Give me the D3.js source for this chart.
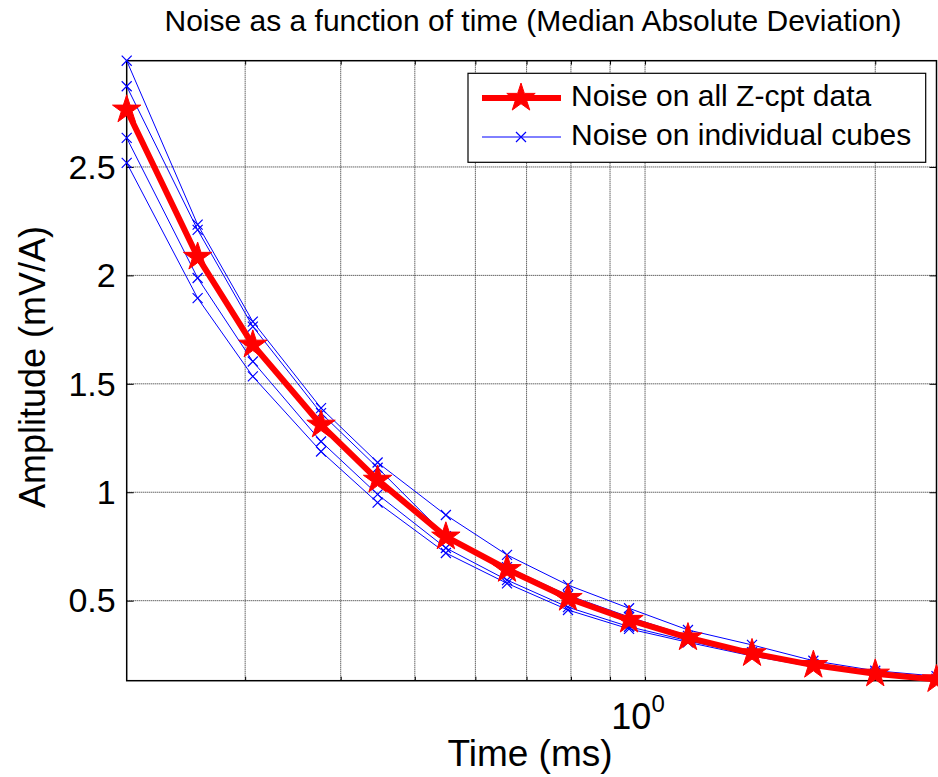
<!DOCTYPE html>
<html lang="en">
    <head>
        <meta charset="utf-8">
        <title>Noise vs time</title>
        <script src="https://d3js.org/d3.v7.min.js"></script>
        <style type="text/css">
          body {
            margin: 0;
            background: #fff;
          }
          text {
            font-family: "Liberation Sans", Arial, sans-serif;
            fill: #000;
          }
          .grid line {
            stroke: #222;
            stroke-width: 1;
            stroke-dasharray: 1,1;
          }
          .frame {
            fill: none;
            stroke: #000;
            stroke-width: 1.5;
          }
          .axis path {
            display: none;
          }
          .axis line {
            stroke: #000;
          }
        </style>
    </head>
    <body>
        <script type="text/javascript">

         // gate times (ms), log axis
         var times = [0.21, 0.26, 0.307, 0.377, 0.447, 0.549, 0.66, 0.793, 0.953, 1.138, 1.38, 1.66, 2.0, 2.405];

         // noise on all Z-cpt data (mV/A)
         var allData = [2.764, 2.085, 1.68, 1.311, 1.057, 0.795, 0.645, 0.512, 0.411, 0.33, 0.257, 0.203, 0.163, 0.137];

         // noise on individual cubes
         var cube1 = [2.99, 2.234, 1.787, 1.388, 1.137, 0.895, 0.711, 0.572, 0.465, 0.365, 0.296, 0.223, 0.177, 0.152];
         var cube2 = [2.872, 2.21, 1.764, 1.365, 1.113, 0.798, 0.655, 0.525, 0.425, 0.338, 0.262, 0.208, 0.167, 0.14];
         var cube3 = [2.634, 1.988, 1.603, 1.234, 0.99, 0.743, 0.595, 0.47, 0.38, 0.315, 0.25, 0.198, 0.16, 0.135];
         var cube4 = [2.519, 1.895, 1.534, 1.188, 0.952, 0.72, 0.58, 0.457, 0.37, 0.308, 0.245, 0.195, 0.157, 0.131];
         var cubes = [cube1, cube2, cube3, cube4];

         var yTicks = [0.5, 1, 1.5, 2, 2.5];
         var xGrid = [0.3, 0.4, 0.5, 0.6, 0.7, 0.8, 0.9, 1, 2];

         var legendLabels = ["Noise on all Z-cpt data", "Noise on individual cubes"];

         var w = 938, h = 777;
         // plot box (note: "top" is reserved on window, so use p* names)
         var pLeft = 126.7, pRight = 936.5, pTop = 60.7, pBottom = 680.7;

         var svg = d3.select("body")
                     .append("svg")
                     .attr("width", w)
                     .attr("height", h);

         var x = d3.scaleLog()
                   .domain(d3.extent(times))
                   .range([pLeft, pRight]);

         var allValues = d3.merge(cubes.concat([allData]));
         var y = d3.scaleLinear()
                   .domain(d3.extent(allValues))
                   .range([pBottom, pTop]);

         // grid (dotted)
         var grid = svg.append("g").attr("class", "grid");
         grid.selectAll("line.gx")
             .data(xGrid)
             .enter()
             .append("line")
             .attr("class", "gx")
             .attr("x1", function (d) { return x(d); })
             .attr("x2", function (d) { return x(d); })
             .attr("y1", pTop)
             .attr("y2", pBottom);
         grid.selectAll("line.gy")
             .data(yTicks)
             .enter()
             .append("line")
             .attr("class", "gy")
             .attr("x1", pLeft)
             .attr("x2", pRight)
             .attr("y1", function (d) { return y(d); })
             .attr("y2", function (d) { return y(d); });

         // y axis, ticks pointing in
         svg.append("g")
            .attr("class", "axis")
            .attr("transform", "translate(" + pLeft + ",0)")
            .call(d3.axisLeft(y).tickValues(yTicks).tickSizeInner(-7).tickSizeOuter(0).tickPadding(11)
                    .tickFormat(function (d) { return d3.format("")(d); }))
            .selectAll("text")
            .style("font-size", "34px")
            .attr("dy", "0.33em");

         svg.append("g")
            .attr("class", "axis")
            .attr("transform", "translate(" + pRight + ",0)")
            .call(d3.axisRight(y).tickValues(yTicks).tickSizeInner(-7).tickSizeOuter(0).tickFormat(""));

         // x axis minor ticks, bottom and top
         svg.append("g")
            .attr("class", "axis")
            .attr("transform", "translate(0," + pBottom + ")")
            .call(d3.axisBottom(x).tickValues(xGrid).tickSizeInner(-4).tickSizeOuter(0).tickFormat(""));
         svg.append("g")
            .attr("class", "axis")
            .attr("transform", "translate(0," + pTop + ")")
            .call(d3.axisTop(x).tickValues(xGrid).tickSizeInner(-4).tickSizeOuter(0).tickFormat(""));

         // 10^0 label
         var xl = svg.append("text")
                     .attr("x", x(1) - 7)
                     .attr("y", 729)
                     .attr("text-anchor", "middle")
                     .style("font-size", "36px");
         xl.append("tspan").text("10");
         xl.append("tspan")
           .attr("dy", -17)
           .style("font-size", "24px")
           .text("0");

         svg.append("rect")
            .attr("class", "frame")
            .attr("x", pLeft)
            .attr("y", pTop)
            .attr("width", pRight - pLeft)
            .attr("height", pBottom - pTop);

         var line = d3.line()
                      .x(function (d, i) { return x(times[i]); })
                      .y(function (d) { return y(d); });

         var timesSym = d3.symbol().type(d3.symbolTimes).size(67);
         var starSym = d3.symbol().type(d3.symbolStar).size(250);

         // individual cubes
         cubes.forEach(function (c) {
             svg.append("path")
                .datum(c)
                .attr("d", line)
                .attr("fill", "none")
                .attr("stroke", "#0000ff")
                .attr("stroke-width", 1);
             svg.selectAll(null)
                .data(c)
                .enter()
                .append("path")
                .attr("d", timesSym)
                .attr("transform", function (d, i) { return "translate(" + x(times[i]) + "," + y(d) + ")"; })
                .attr("fill", "none")
                .attr("stroke", "#0000ff")
                .attr("stroke-width", 1.2);
         });

         // all data
         svg.append("path")
            .datum(allData)
            .attr("d", line)
            .attr("fill", "none")
            .attr("stroke", "#ff0000")
            .attr("stroke-width", 6)
            .attr("stroke-linejoin", "round");
         svg.selectAll(null)
            .data(allData)
            .enter()
            .append("path")
            .attr("d", starSym)
            .attr("transform", function (d, i) { return "translate(" + x(times[i]) + "," + y(d) + ")"; })
            .attr("fill", "#ff0000")
            .attr("stroke", "#ff0000")
            .attr("stroke-width", 1);

         // title and axis labels
         svg.append("text")
            .attr("x", 533)
            .attr("y", 31)
            .attr("text-anchor", "middle")
            .style("font-size", "30px")
            .text("Noise as a function of time (Median Absolute Deviation)");

         svg.append("text")
            .attr("x", 530)
            .attr("y", 766)
            .attr("text-anchor", "middle")
            .style("font-size", "37px")
            .text("Time (ms)");

         svg.append("text")
            .attr("transform", "translate(45,367)rotate(-90)")
            .attr("text-anchor", "middle")
            .style("font-size", "36px")
            .text("Amplitude (mV/A)");

         // legend
         var lg = svg.append("g");
         lg.append("rect")
           .attr("x", 468)
           .attr("y", 73.3)
           .attr("width", 457.7)
           .attr("height", 89)
           .attr("fill", "#fff")
           .attr("stroke", "#000")
           .attr("stroke-width", 1.2);

         var rows = [98, 137];
         lg.append("line")
           .attr("x1", 482).attr("x2", 561)
           .attr("y1", rows[0]).attr("y2", rows[0])
           .attr("stroke", "#ff0000")
           .attr("stroke-width", 6);
         lg.append("path")
           .attr("d", starSym)
           .attr("transform", "translate(521," + rows[0] + ")")
           .attr("fill", "#ff0000")
           .attr("stroke", "#ff0000");
         lg.append("line")
           .attr("x1", 482).attr("x2", 561)
           .attr("y1", rows[1]).attr("y2", rows[1])
           .attr("stroke", "#0000ff")
           .attr("stroke-width", 1);
         lg.append("path")
           .attr("d", timesSym)
           .attr("transform", "translate(521," + rows[1] + ")")
           .attr("fill", "none")
           .attr("stroke", "#0000ff")
           .attr("stroke-width", 1.2);

         lg.selectAll("text")
           .data(legendLabels)
           .enter()
           .append("text")
           .attr("x", 571)
           .attr("y", function (d, i) { return rows[i] + 8; })
           .style("font-size", "30px")
           .text(function (d) { return d; });

        </script>
    </body>
</html>
